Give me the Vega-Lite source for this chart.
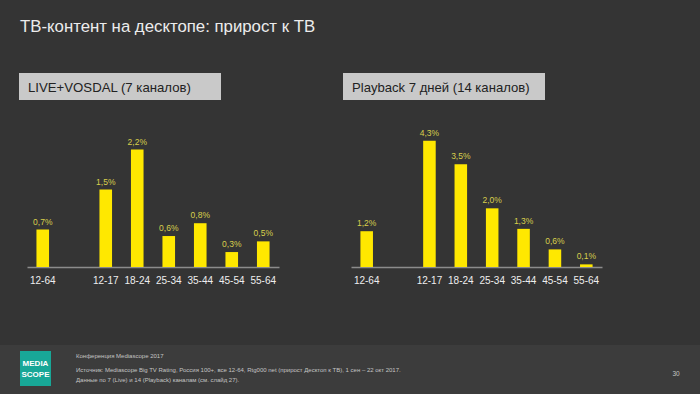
{
  "$schema": "https://vega.github.io/schema/vega-lite/v6.json",
  "width": 700,
  "height": 267,
  "autosize": {"type": "none"},
  "padding": {"left": 0, "top": 0, "right": 0, "bottom": 127},
  "background": "#343434",
  "config": {"view": {"stroke": null}, "font": "Liberation Sans"},
  "datasets": {
    "bars": [
      {"panel": "live", "age": "12-64", "value": 0.7, "label": "0,7%"},
      {"panel": "live", "age": "12-17", "value": 1.45, "label": "1,5%"},
      {"panel": "live", "age": "18-24", "value": 2.2, "label": "2,2%"},
      {"panel": "live", "age": "25-34", "value": 0.58, "label": "0,6%"},
      {"panel": "live", "age": "35-44", "value": 0.82, "label": "0,8%"},
      {"panel": "live", "age": "45-54", "value": 0.28, "label": "0,3%"},
      {"panel": "live", "age": "55-64", "value": 0.48, "label": "0,5%"},
      {"panel": "playback", "age": "12-64", "value": 1.22, "label": "1,2%"},
      {"panel": "playback", "age": "12-17", "value": 4.3, "label": "4,3%"},
      {"panel": "playback", "age": "18-24", "value": 3.5, "label": "3,5%"},
      {"panel": "playback", "age": "25-34", "value": 2.0, "label": "2,0%"},
      {"panel": "playback", "age": "35-44", "value": 1.3, "label": "1,3%"},
      {"panel": "playback", "age": "45-54", "value": 0.6, "label": "0,6%"},
      {"panel": "playback", "age": "55-64", "value": 0.09, "label": "0,1%"}
    ]
  },
  "layer": [
    {
      "data": {"values": [{}]},
      "mark": {"type": "rect", "color": "#3c3c3c"},
      "encoding": {"x": {"value": 0}, "x2": {"value": 700}, "y": {"value": 345}, "y2": {"value": 394}}
    },
    {
      "data": {"values": [{}]},
      "mark": {"type": "text", "text": "ТВ-контент на десктопе: прирост к ТВ", "align": "left", "baseline": "alphabetic", "fontSize": 16.8, "color": "#ececec"},
      "encoding": {"x": {"value": 20}, "y": {"value": 32}}
    },
    {
      "data": {"values": [{"x": 19, "x2": 221}, {"x": 343, "x2": 545}]},
      "mark": {"type": "rect", "color": "#c9c9c9"},
      "encoding": {"x": {"field": "x", "type": "quantitative", "scale": null}, "x2": {"field": "x2"}, "y": {"value": 73}, "y2": {"value": 100}}
    },
    {
      "data": {"values": [{}]},
      "mark": {"type": "text", "text": "LIVE+VOSDAL (7 каналов)", "align": "left", "baseline": "alphabetic", "fontSize": 13.2, "color": "#222222"},
      "encoding": {"x": {"value": 28}, "y": {"value": 92}}
    },
    {
      "data": {"values": [{}]},
      "mark": {"type": "text", "text": "Playback 7 дней (14 каналов)", "align": "left", "baseline": "alphabetic", "fontSize": 13.1, "color": "#222222"},
      "encoding": {"x": {"value": 352}, "y": {"value": 92}}
    },
    {
      "data": {"name": "bars"},
      "transform": [{"filter": "datum.panel == 'live'"}],
      "encoding": {
        "x": {
          "field": "age", "type": "nominal",
          "scale": {"domain": ["12-64", " ", "12-17", "18-24", "25-34", "35-44", "45-54", "55-64"], "range": [27, 279], "paddingInner": 0.6, "paddingOuter": 0.3},
          "axis": {"orient": "bottom", "title": null, "domainColor": "#8c8c8c", "domainWidth": 1.5, "ticks": false, "labelColor": "#eeeeee", "labelFontSize": 10, "labelPadding": 8, "labelAngle": 0, "grid": false}
        },
        "y": {"field": "value", "type": "quantitative", "scale": {"domain": [0, 5]}, "axis": null}
      },
      "layer": [
        {"mark": {"type": "bar", "color": "#ffe800"}},
        {"mark": {"type": "text", "dy": -5, "baseline": "alphabetic", "fontSize": 8.5, "color": "#d8cf4c"}, "encoding": {"text": {"field": "label"}}}
      ]
    },
    {
      "data": {"name": "bars"},
      "transform": [{"filter": "datum.panel == 'playback'"}],
      "encoding": {
        "x": {
          "field": "age", "type": "nominal",
          "scale": {"domain": ["12-64", " ", "12-17", "18-24", "25-34", "35-44", "45-54", "55-64"], "range": [351, 602], "paddingInner": 0.6, "paddingOuter": 0.3},
          "axis": {"orient": "bottom", "title": null, "domainColor": "#8c8c8c", "domainWidth": 1.5, "ticks": false, "labelColor": "#eeeeee", "labelFontSize": 10, "labelPadding": 8, "labelAngle": 0, "grid": false}
        },
        "y": {"field": "value", "type": "quantitative", "scale": {"domain": [0, 9.1]}, "axis": null}
      },
      "layer": [
        {"mark": {"type": "bar", "color": "#ffe800"}},
        {"mark": {"type": "text", "dy": -5, "baseline": "alphabetic", "fontSize": 8.5, "color": "#d8cf4c"}, "encoding": {"text": {"field": "label"}}}
      ]
    },
    {
      "data": {"values": [{}]},
      "mark": {"type": "rect", "color": "#18a797"},
      "encoding": {"x": {"value": 20}, "x2": {"value": 51}, "y": {"value": 351}, "y2": {"value": 386}}
    },
    {
      "data": {"values": [{"t": "MEDIA", "y": 366}, {"t": "SCOPE", "y": 377}]},
      "mark": {"type": "text", "align": "center", "baseline": "alphabetic", "fontSize": 8, "fontWeight": "bold", "color": "#ffffff"},
      "encoding": {"x": {"value": 35.5}, "y": {"field": "y", "type": "quantitative", "scale": null}, "text": {"field": "t"}}
    },
    {
      "data": {"values": [
        {"t": "Конференция Mediascope 2017", "y": 357.5},
        {"t": "Источник: Mediascope Big TV Rating, Россия 100+, все 12-64, Rtg000 net (прирост Десктоп к ТВ), 1 сен – 22 окт 2017.", "y": 372},
        {"t": "Данные по 7 (Live) и 14 (Playback) каналам (см. слайд 27).", "y": 381.5}
      ]},
      "mark": {"type": "text", "align": "left", "baseline": "alphabetic", "fontSize": 6, "color": "#c4c4c4"},
      "encoding": {"x": {"value": 76}, "y": {"field": "y", "type": "quantitative", "scale": null}, "text": {"field": "t"}}
    },
    {
      "data": {"values": [{}]},
      "mark": {"type": "text", "text": "30", "align": "center", "baseline": "alphabetic", "fontSize": 6.5, "color": "#c4c4c4"},
      "encoding": {"x": {"value": 676}, "y": {"value": 376}}
    }
  ],
  "resolve": {"scale": {"x": "independent", "y": "independent"}, "axis": {"x": "independent", "y": "independent"}}
}
